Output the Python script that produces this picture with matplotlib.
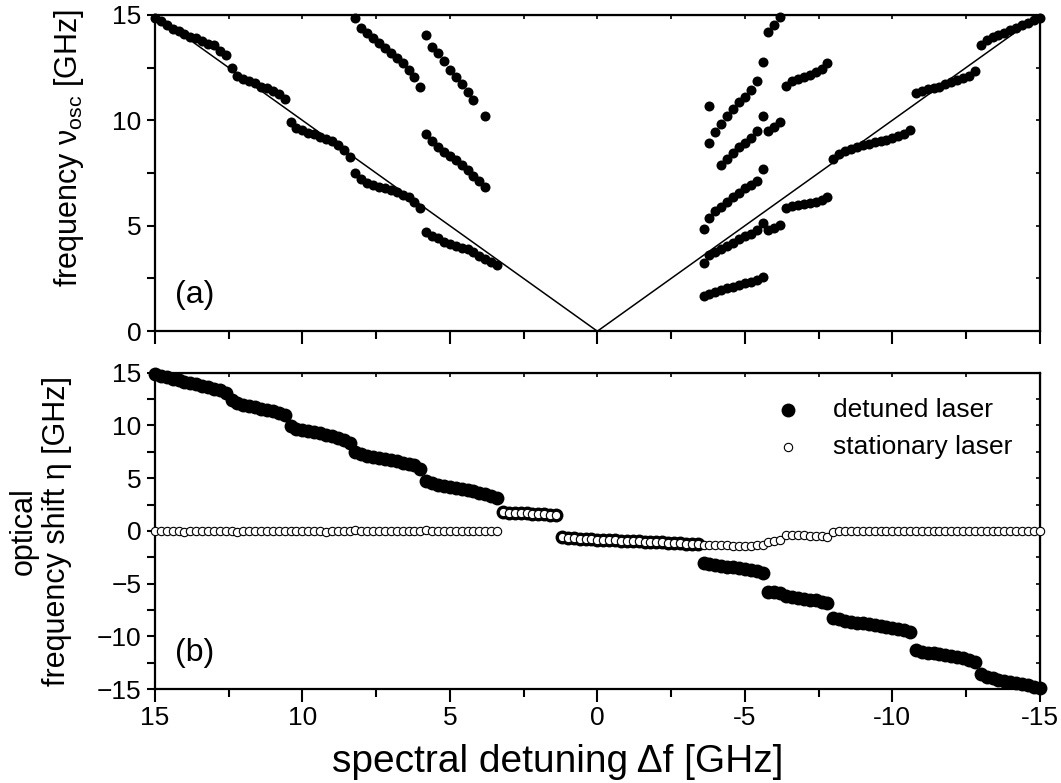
import matplotlib
matplotlib.use('Agg')
import matplotlib.pyplot as plt

plt.rcParams['font.family'] = ['Liberation Sans', 'DejaVu Sans']
plt.rcParams['mathtext.fontset'] = 'custom'
plt.rcParams['mathtext.rm'] = 'Liberation Sans'
plt.rcParams['mathtext.it'] = 'Liberation Sans:italic'

# detuning sweep (GHz), one point per step
detuning = [15.0, 14.8, 14.6, 14.4, 14.2, 14.0, 13.8, 13.6, 13.4, 13.2, 13.0, 12.8, 12.6,
            12.4, 12.2, 12.0, 11.8, 11.6, 11.4, 11.2, 11.0, 10.8, 10.6,
            10.4, 10.2, 10.0, 9.8, 9.6, 9.4, 9.2, 9.0, 8.8, 8.6, 8.4,
            8.2, 8.0, 7.8, 7.6, 7.4, 7.2, 7.0, 6.8, 6.6, 6.4, 6.2, 6.0,
            5.8, 5.6, 5.4, 5.2, 5.0, 4.8, 4.6, 4.4, 4.2, 4.0, 3.8, 3.6, 3.4,
            3.2, 3.0, 2.8, 2.6, 2.4, 2.2, 2.0, 1.8, 1.6, 1.4,
            1.2, 1.0, 0.8, 0.6, 0.4, 0.2, 0.0, -0.2, -0.4, -0.6, -0.8, -1.0,
            -1.2, -1.4, -1.6, -1.8, -2.0, -2.2, -2.4, -2.6, -2.8, -3.0, -3.2, -3.4,
            -3.6, -3.8, -4.0, -4.2, -4.4, -4.6, -4.8, -5.0, -5.2, -5.4, -5.6,
            -5.8, -6.0, -6.2, -6.4, -6.6, -6.8, -7.0, -7.2, -7.4, -7.6, -7.8,
            -8.0, -8.2, -8.4, -8.6, -8.8, -9.0, -9.2, -9.4, -9.6, -9.8, -10.0, -10.2, -10.4, -10.6,
            -10.8, -11.0, -11.2, -11.4, -11.6, -11.8, -12.0, -12.2, -12.4, -12.6, -12.8,
            -13.0, -13.2, -13.4, -13.6, -13.8, -14.0, -14.2, -14.4, -14.6, -14.8, -15.0]

# optical frequency shift of the detuned laser (GHz)
eta_detuned = [14.85, 14.7, 14.55, 14.42, 14.28, 14.15, 14.02, 13.9, 13.77, 13.62, 13.48, 13.32, 13.1,
               12.45, 12.1, 11.95, 11.85, 11.72, 11.6, 11.48, 11.35, 11.2, 11.0,
               9.9, 9.7, 9.55, 9.45, 9.35, 9.25, 9.12, 9.0, 8.85, 8.65, 8.3,
               7.5, 7.25, 7.1, 7.0, 6.9, 6.8, 6.7, 6.6, 6.45, 6.35, 6.2, 5.85,
               4.7, 4.5, 4.35, 4.25, 4.15, 4.05, 3.95, 3.85, 3.75, 3.6, 3.45, 3.3, 3.15,
               1.75, 1.72, 1.7, 1.68, 1.65, 1.62, 1.6, 1.57, 1.55, 1.5,
               -0.62, -0.68, -0.72, -0.75, -0.78, -0.8, -0.83, -0.86, -0.88, -0.9, -0.93, -0.95,
               -0.98, -1.0, -1.03, -1.05, -1.08, -1.1, -1.13, -1.15, -1.18, -1.2, -1.23, -1.27,
               -3.0, -3.1, -3.2, -3.3, -3.38, -3.45, -3.55, -3.62, -3.7, -3.8, -3.95,
               -5.75, -5.82, -5.93, -6.2, -6.3, -6.38, -6.45, -6.52, -6.6, -6.7, -6.85,
               -8.25, -8.4, -8.5, -8.6, -8.7, -8.78, -8.85, -8.93, -9.0, -9.1, -9.2, -9.3, -9.42, -9.6,
               -11.3, -11.45, -11.55, -11.62, -11.7, -11.8, -11.9, -12.0, -12.1, -12.2, -12.4,
               -13.6, -13.85, -14.0, -14.1, -14.22, -14.35, -14.45, -14.55, -14.65, -14.78, -14.88]

# optical frequency shift of the stationary laser (GHz)
eta_stationary = [-0.05, -0.05, -0.04, -0.05, -0.05, -0.06, -0.05, -0.05, -0.04, -0.05, -0.05, -0.05, -0.04,
                  -0.05, -0.06, -0.05, -0.05, -0.05, -0.04, -0.05, -0.05, -0.05, -0.04,
                  0.0, -0.05, -0.05, -0.04, -0.05, -0.05, -0.06, -0.05, -0.05, -0.04, -0.02,
                  0.05, 0.0, -0.04, -0.05, -0.05, -0.05, -0.04, -0.05, -0.05, -0.05, -0.03, 0.02,
                  0.06, 0.0, -0.03, -0.05, -0.05, -0.04, -0.05, -0.05, -0.05, -0.04, -0.05, -0.03, 0.0,
                  1.75, 1.72, 1.7, 1.68, 1.65, 1.62, 1.6, 1.57, 1.55, 1.5,
                  -0.62, -0.68, -0.72, -0.75, -0.78, -0.8, -0.83, -0.86, -0.88, -0.9, -0.93, -0.95,
                  -0.98, -1.0, -1.03, -1.05, -1.08, -1.1, -1.13, -1.15, -1.18, -1.2, -1.23, -1.27,
                  -1.34, -1.36, -1.37, -1.38, -1.38, -1.39, -1.4, -1.4, -1.4, -1.38, -1.38,
                  -1.05, -1.0, -0.9, -0.35, -0.38, -0.4, -0.42, -0.45, -0.48, -0.52, -0.55,
                  -0.1, -0.05, -0.05, -0.04, -0.05, -0.05, -0.05, -0.04, -0.05, -0.05, -0.05, -0.04, -0.05, -0.05,
                  -0.05, -0.04, -0.05, -0.05, -0.05, -0.04, -0.05, -0.05, -0.05, -0.04, -0.05,
                  -0.05, -0.05, -0.04, -0.05, -0.05, -0.05, -0.04, -0.05, -0.05, -0.05, -0.05]

# beat frequencies seen in panel (a), grouped by branch
osc_main_df = [15.0, 14.8, 14.6, 14.4, 14.2, 14.0, 13.8, 13.6, 13.4, 13.2, 13.0, 12.8, 12.6,
               12.4, 12.2, 12.0, 11.8, 11.6, 11.4, 11.2, 11.0, 10.8, 10.6,
               10.4, 10.2, 10.0, 9.8, 9.6, 9.4, 9.2, 9.0, 8.8, 8.6, 8.4,
               8.2, 8.0, 7.8, 7.6, 7.4, 7.2, 7.0, 6.8, 6.6, 6.4, 6.2, 6.0,
               5.8, 5.6, 5.4, 5.2, 5.0, 4.8, 4.6, 4.4, 4.2, 4.0, 3.8, 3.6, 3.4]
osc_main_nu = [14.86, 14.7, 14.5, 14.35, 14.25, 14.1, 13.95, 13.9, 13.75, 13.6, 13.55, 13.3, 13.1,
               12.5, 12.1, 11.95, 11.85, 11.75, 11.6, 11.55, 11.4, 11.25, 11.0,
               9.9, 9.65, 9.55, 9.4, 9.35, 9.2, 9.1, 9.0, 8.85, 8.6, 8.26,
               7.5, 7.2, 7.05, 6.95, 6.85, 6.8, 6.7, 6.6, 6.45, 6.35, 6.15, 5.84,
               4.7, 4.5, 4.4, 4.25, 4.15, 4.05, 3.95, 3.9, 3.75, 3.55, 3.42, 3.3, 3.13]

osc_a_df = [8.2, 8.0, 7.8, 7.6, 7.4, 7.2, 7.0, 6.8, 6.6, 6.4, 6.2, 6.0]
osc_a_nu = [14.86, 14.38, 14.15, 13.91, 13.67, 13.43, 13.2, 12.96, 12.72, 12.39, 12.06, 11.58]

osc_b_df = [5.8, 5.6, 5.4, 5.2, 5.0, 4.8, 4.6, 4.4, 4.2, 3.8]
osc_b_nu = [14.05, 13.5, 13.2, 12.8, 12.4, 12.05, 11.7, 11.35, 10.97, 10.2]

osc_c_df = [5.8, 5.6, 5.4, 5.2, 5.0, 4.8, 4.6, 4.4, 4.2, 4.0, 3.8]
osc_c_nu = [9.35, 9.0, 8.75, 8.5, 8.3, 8.1, 7.9, 7.65, 7.35, 7.1, 6.85]

osc_d_df = [-3.6, -3.8, -4.0, -4.2, -4.4, -4.6, -4.8, -5.0, -5.2, -5.4, -5.6]
osc_d_nu = [1.66, 1.75, 1.85, 1.95, 2.05, 2.12, 2.2, 2.28, 2.35, 2.42, 2.57]

osc_e_df = [-3.6, -3.8, -4.0, -4.2, -4.4, -4.6, -4.8, -5.0, -5.2, -5.4, -5.6,
            -5.8, -6.0, -6.2, -6.4, -6.6, -6.8, -7.0, -7.2, -7.4, -7.6, -7.8,
            -8.0, -8.2, -8.4, -8.6, -8.8, -9.0, -9.2, -9.4, -9.6, -9.8, -10.0, -10.2, -10.4, -10.6,
            -10.8, -11.0, -11.2, -11.4, -11.6, -11.8, -12.0, -12.2, -12.4, -12.6, -12.8,
            -13.0, -13.2, -13.4, -13.6, -13.8, -14.0, -14.2, -14.4, -14.6, -14.8, -15.0]
osc_e_nu = [3.23, 3.6, 3.75, 3.9, 4.05, 4.2, 4.35, 4.5, 4.62, 4.8, 5.13,
            4.8, 4.89, 5.03, 5.84, 5.95, 6.0, 6.05, 6.1, 6.15, 6.22, 6.36,
            8.17, 8.4, 8.55, 8.65, 8.75, 8.85, 8.9, 8.95, 9.0, 9.05, 9.15, 9.25, 9.35, 9.54,
            11.3, 11.4, 11.5, 11.55, 11.6, 11.7, 11.8, 11.9, 12.0, 12.1, 12.35,
            13.58, 13.8, 13.95, 14.05, 14.15, 14.3, 14.4, 14.5, 14.62, 14.75, 14.86]

osc_f_df = [-3.6, -3.8, -4.0, -4.2, -4.4, -4.6, -4.8, -5.0, -5.2, -5.4, -5.6]
osc_f_nu = [4.84, 5.37, 5.7, 5.9, 6.13, 6.38, 6.55, 6.8, 6.93, 7.12, 7.69]

osc_g_df = [-4.2, -4.4, -4.6, -4.8, -5.0, -5.2, -5.4, -5.6, -5.8, -6.0, -6.2,
            -6.4, -6.6, -6.8, -7.0, -7.2, -7.4, -7.6, -7.8]
osc_g_nu = [7.88, 8.17, 8.45, 8.74, 8.93, 9.16, 9.5, 10.2, 9.5, 9.68, 9.92,
            11.63, 11.85, 11.95, 12.05, 12.15, 12.3, 12.45, 12.72]

osc_h_df = [-3.8, -3.8, -4.0, -4.2, -4.4, -4.6, -4.8, -5.0, -5.2, -5.4, -5.6, -5.8, -6.0, -6.2]
osc_h_nu = [10.68, 8.93, 9.45, 9.83, 10.2, 10.54, 10.87, 11.1, 11.44, 11.87, 12.77, 14.19, 14.52, 14.9]

line_df = [15, 0, -15]

fig = plt.figure(figsize=(10.61, 7.83), dpi=100)
ax1 = fig.add_axes([0.146, 0.577, 0.834, 0.404])
ax2 = fig.add_axes([0.146, 0.120, 0.834, 0.404])

ax1.plot(line_df, [abs(v) for v in line_df], color='black', lw=1.1, zorder=1)
for xs, ys in [(osc_main_df, osc_main_nu), (osc_a_df, osc_a_nu), (osc_b_df, osc_b_nu),
               (osc_c_df, osc_c_nu), (osc_d_df, osc_d_nu), (osc_e_df, osc_e_nu),
               (osc_f_df, osc_f_nu), (osc_g_df, osc_g_nu), (osc_h_df, osc_h_nu)]:
    ax1.scatter(xs, ys, s=52, color='black', linewidths=0, zorder=3, clip_on=False)

ax2.scatter(detuning, eta_detuned, s=100, color='black', linewidths=0, zorder=2,
            clip_on=False, label='detuned laser')
ax2.scatter(detuning, eta_stationary, s=36, facecolors='white', edgecolors='black',
            linewidths=0.8, zorder=3, clip_on=False, label='stationary laser')

xmaj = [15, 10, 5, 0, -5, -10, -15]
xmin = [12.5, 7.5, 2.5, -2.5, -7.5, -12.5]
for ax, ymaj, ymin in [(ax1, [0, 5, 10, 15], [2.5, 7.5, 12.5]),
                       (ax2, [-15, -10, -5, 0, 5, 10, 15], [-12.5, -7.5, -2.5, 2.5, 7.5, 12.5])]:
    ax.set_xlim(15, -15)
    ax.set_xticks(xmaj)
    ax.set_xticks(xmin, minor=True)
    ax.set_yticks(ymaj)
    ax.set_yticks(ymin, minor=True)
    ax.tick_params(axis='both', which='both', direction='out', labelsize=19, width=1.5)
    ax.tick_params(axis='x', which='major', length=9)
    ax.tick_params(axis='x', which='minor', length=6)
    ax.tick_params(axis='y', which='both', length=6)
    for sp in ax.spines.values():
        sp.set_linewidth(1.6)
    # small inward ticks on the top and right frame
    top = ax.secondary_xaxis('top')
    top.set_xticks(xmaj + xmin)
    top.tick_params(direction='in', length=3, width=1.2, labeltop=False)
    right = ax.secondary_yaxis('right')
    right.set_yticks(ymaj + ymin)
    right.tick_params(direction='in', length=3, width=1.2, labelright=False)

ax1.set_ylim(0, 15)
ax1.set_xticklabels([])
ax1.set_ylabel('frequency ν$_{\\rm osc}$ [GHz]', fontsize=22)
ax1.yaxis.set_label_coords(-0.078, 0.58)
ax1.text(0.023, 0.09, '(a)', transform=ax1.transAxes, fontsize=23)

ax2.set_ylim(-15, 15)
ax2.set_xticklabels(['15', '10', '5', '0', '-5', '-10', '-15'])
ax2.set_ylabel('optical\nfrequency shift η [GHz]', fontsize=22, linespacing=1.15)
ax2.yaxis.set_label_coords(-0.094, 0.5)
ax2.set_xlabel('spectral detuning Δf [GHz]', fontsize=28)
ax2.xaxis.set_label_coords(0.455, -0.175)
ax2.text(0.023, 0.09, '(b)', transform=ax2.transAxes, fontsize=23)
ax2.legend(loc='upper right', frameon=False, fontsize=19, handletextpad=0.7,
           borderaxespad=0.3, bbox_to_anchor=(0.99, 0.98))

fig.savefig('out.png', dpi=100)
